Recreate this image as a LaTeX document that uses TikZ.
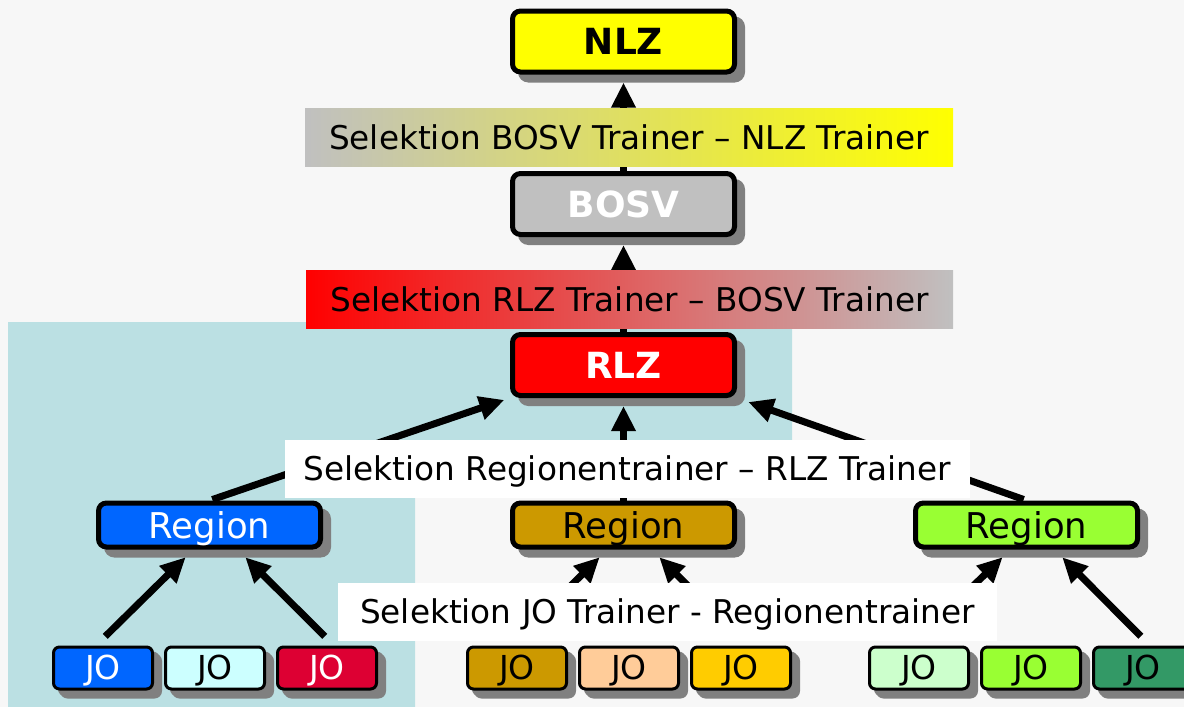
\documentclass[tikz,border=0pt]{standalone}
\usepackage{fontspec}
\setmainfont{DejaVu Sans}
\usetikzlibrary{arrows.meta,shadows}
\definecolor{canvas}{HTML}{F7F7F7}
\definecolor{lagoon}{HTML}{BBE0E3}
\definecolor{shadowgray}{HTML}{808080}
\definecolor{silver}{HTML}{C0C0C0}
\definecolor{nlzyellow}{HTML}{FFFF00}
\definecolor{rlzred}{HTML}{FF0000}
\definecolor{regblue}{HTML}{0066FF}
\definecolor{reggold}{HTML}{CC9900}
\definecolor{reglime}{HTML}{99FF33}
\definecolor{jocyan}{HTML}{CCFFFF}
\definecolor{jocrimson}{HTML}{DD0033}
\definecolor{jopeach}{HTML}{FFCC99}
\definecolor{joamber}{HTML}{FFCC00}
\definecolor{jomint}{HTML}{CCFFCC}
\definecolor{josea}{HTML}{339966}

\begin{document}
\begin{tikzpicture}[
  x=1pt,y=-1pt,
  box/.style={draw=black,line width=5pt,rounded corners=8pt,inner sep=0pt,
              minimum width=222pt,
              drop shadow={shadow xshift=8pt,shadow yshift=-8pt,
                           fill=shadowgray,draw=shadowgray,opacity=1}},
  centre/.style={box,minimum height=61pt,text height=26pt,text depth=0pt,
                 font=\fontsize{36}{40}\selectfont\bfseries},
  region/.style={box,minimum height=44pt,text height=26pt,text depth=0pt,
                 font=\fontsize{35.5}{40}\selectfont},
  jobox/.style={box,line width=3pt,rounded corners=6pt,minimum width=99pt,
                minimum height=42pt,text height=23pt,text depth=0pt,
                font=\fontsize{33}{38}\selectfont,
                drop shadow={shadow xshift=6pt,shadow yshift=-6pt,
                             fill=shadowgray,draw=shadowgray,opacity=1}},
  sel/.style={inner sep=0pt,minimum height=58pt,text height=24pt,
              text depth=0pt,font=\fontsize{32.7}{36}\selectfont},
  arr/.style={line width=7pt,-{Triangle[length=25pt,width=23pt]}},
]

\useasboundingbox (0,0) rectangle (1184,707);
\fill[canvas] (0,0) rectangle (1184,707);

% ---- cantonal area ----
\fill[lagoon] (8,322) -- (792,322) -- (792,497) -- (415,497)
              -- (415,707) -- (8,707) -- cycle;

% ============================ CENTRES ============================
\node[centre,fill=nlzyellow] (nlz) at (623.5,41.5) {NLZ};
\node[centre,fill=silver,text=white] (bosv) at (623.5,204) {BOSV};
\node[centre,fill=rlzred,text=white] (rlz) at (623.5,365) {RLZ};

% ---- regions ----
\node[region,fill=regblue,text=white] (regB) at (209.5,525) {Region};
\node[region,fill=reggold] (regG) at (623.5,525) {Region};
\node[region,fill=reglime] (regL) at (1026.5,525) {Region};

% ---- JO ----
\foreach \x/\c/\t/\n in {103/regblue/white/1, 215/jocyan/black/2,
                         327/jocrimson/white/3, 517/reggold/black/4,
                         629/jopeach/black/5, 741/joamber/black/6,
                         919/jomint/black/7, 1031/reglime/black/8,
                         1143/josea/black/9}{
  \node[jobox,fill=\c,text=\t] (jo\n) at (\x,668) {JO};
}

% ---- selection arrows ----
\draw[arr,shorten >=8pt] (bosv.north) -- (nlz.south);
\draw[arr,shorten >=8pt] (rlz.north) -- (bosv.south);
\draw[arr,shorten <=3pt,shorten >=6pt] (regB.north) -- (rlz.south west);
\draw[arr,shorten >=8pt] (regG.north) -- (rlz.south);
\draw[arr,shorten <=3pt,shorten >=12pt] (regL.north) -- (rlz.south east);

\foreach \r/\a/\b in {regB/1/3, regG/4/6, regL/7/9}{
  \draw[arr,shorten <=13pt,shorten >=11pt]
    ([xshift=-7pt]jo\a.north) -- ([xshift=-16pt]\r.south);
  \draw[arr,shorten <=13pt,shorten >=11pt]
    ([xshift=7pt]jo\b.north) -- ([xshift=28pt]\r.south);
}

% ---- selection steps ----
\node[sel,minimum width=648pt,left color=silver,right color=nlzyellow]
  (selNLZ) at (629,137) {Selektion BOSV Trainer -- NLZ Trainer};
\node[sel,minimum width=647pt,left color=rlzred,right color=silver]
  (selBOSV) at (629.5,299) {Selektion RLZ Trainer -- BOSV Trainer};
\node[sel,minimum width=685pt,fill=white]
  (selRLZ) at (627.5,468.5) {Selektion Regionentrainer -- RLZ Trainer};
\node[sel,minimum width=659pt,fill=white]
  (selReg) at (667.5,611.5) {Selektion JO Trainer - Regionentrainer};

\end{tikzpicture}
\end{document}
